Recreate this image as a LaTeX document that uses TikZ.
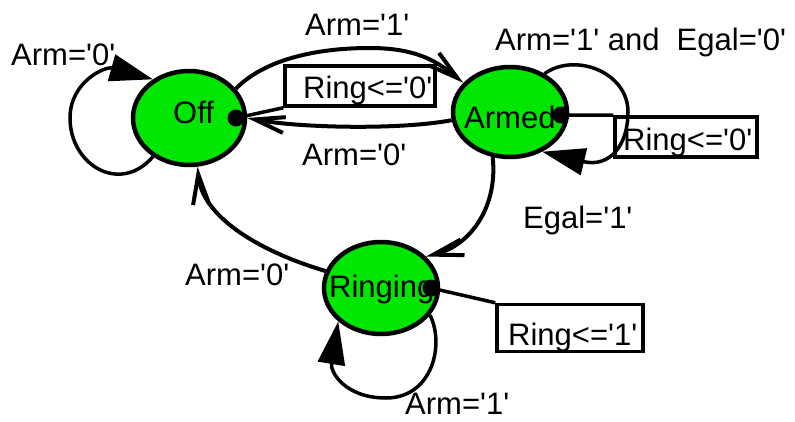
\documentclass[tikz,border=0pt]{standalone}
\usepackage{fontspec}
\setmainfont{Liberation Sans}[Ligatures=TeXOff]
\usetikzlibrary{arrows.meta,shapes.geometric}
\definecolor{stategreen}{RGB}{0,230,0}
\tikzset{
  state/.style={ellipse,draw=black,line width=4.5pt,fill=stategreen,inner sep=0pt},
  lab/.style={anchor=base west,inner sep=0pt,font=\fontsize{31}{37}\selectfont},
  actbox/.style={draw=black,line width=3.5pt,rectangle,inner sep=0pt},
  dotst/.style={circle,fill=black,inner sep=0pt,minimum size=17pt},
  edge/.style={line width=4pt,-{Straight Barb[length=30pt,width=16pt,line width=4pt]}},
  loopedge/.style={line width=3.5pt,-{Triangle[length=43pt,width=27pt]}},
  link/.style={line width=3.5pt}
}
\begin{document}
\begin{tikzpicture}[x=1pt,y=-1pt]
\useasboundingbox (0,0) rectangle (795,421);
% states
\node[state,minimum width=112pt,minimum height=94pt] (off) at (189,118) {};
\node[state,minimum width=114pt,minimum height=90pt] (armed) at (510,112) {};
\node[state,minimum width=114pt,minimum height=92pt] (ringing) at (381,288) {};
\node[lab] (offtxt) at (173,123) {Off};
\node[lab] (armedtxt) at (464,128) {Armed};
\node[lab] (ringingtxt) at (329,297) {Ringing};
% action boxes
\node[actbox,minimum width=150pt,minimum height=40pt] (b1) at (360,86) {};
\node[actbox,minimum width=142pt,minimum height=40pt] (b2) at (686,137) {};
\node[actbox,minimum width=146pt,minimum height=47pt] (b3) at (570,328) {};
\node[lab] (b1txt) at (303,98) {Ring<='0'};
\node[lab] (b2txt) at (623,150) {Ring<='0'};
\node[lab] (b3txt) at (508,345) {Ring<='1'};
% dots and links
\node[dotst] (offdot) at (236,118) {};
\node[dotst] (armeddot) at (561,115) {};
\node[dotst] (ringdot) at (431,288) {};
\draw[link] (offdot.center) -- (b1.south west);
\draw[link] (armeddot.center) -- (b2.north west);
\draw[link] (ringdot.center) -- (b3.north west);
% transitions
\draw[edge] (off.32) .. controls (262,62) and (310,48) .. (370,48)
  .. controls (420,48) and (440,64) .. (armed.148);
\draw[edge] (armed.188) .. controls (400,130) and (300,128) .. (off.east);
\draw[edge] (armed.-111) .. controls (498,205) and (472,245) .. (ringing.35);
\draw[edge] (ringing.163) .. controls (255,250) and (202,215) .. (off.-80);
% self loops
\draw[loopedge] (off.227) .. controls (120,195) and (70,165) .. (70,118)
  .. controls (70,82) and (105,66) .. (off.133);
\draw[loopedge] (armed.48) .. controls (575,52) and (628,72) .. (628,112)
  .. controls (628,145) and (610,168) .. (armed.-51);
\draw[loopedge] (ringing.-29) .. controls (445,345) and (432,398) .. (386,398)
  .. controls (345,398) and (330,372) .. (ringing.218);
% labels
\node[lab] (l1) at (11,65) {Arm='0'};
\node[lab] (l2) at (305,35) {Arm='1'};
\node[lab] (l3) at (495,50) {Arm='1' and\ \ Egal='0'};
\node[lab] (l4) at (302,165) {Arm='0'};
\node[lab] (l5) at (523,228) {Egal='1'};
\node[lab] (l6) at (185,285) {Arm='0'};
\node[lab] (l7) at (405,414) {Arm='1'};
\end{tikzpicture}
\end{document}
